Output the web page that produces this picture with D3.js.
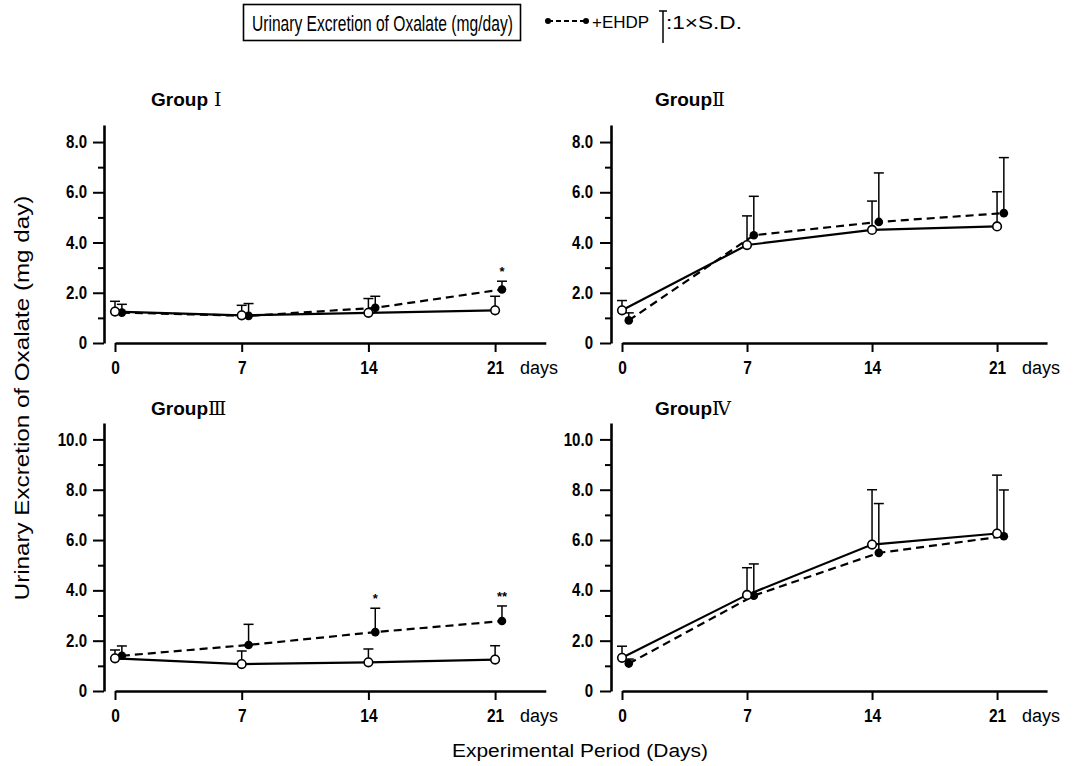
<!DOCTYPE html>
<html>
<head>
<meta charset="utf-8">
<script src="https://cdn.jsdelivr.net/npm/d3@7"></script>
<style>
  html, body { margin: 0; padding: 0; background: #fff; }
  svg { display: block; }
  text { font-family: "Liberation Sans", Arial, sans-serif; fill: #000; }
</style>
</head>
<body>
<script>
// ---------------- DATA ----------------
const days = [0, 7, 14, 21];
const xTickLabels = ["0", "7", "14", "21"];
const groupNames = ["Group", "Group", "Group", "Group"];
const groupNumerals = [" Ⅰ", "Ⅱ", "Ⅲ", "Ⅳ"];

const yTicksTop = [0, 2, 4, 6, 8];
const yTickLabelsTop = ["0", "2.0", "4.0", "6.0", "8.0"];
const yMinorTop = [1, 3, 5, 7];
const yTicksBottom = [0, 2, 4, 6, 8, 10];
const yTickLabelsBottom = ["0", "2.0", "4.0", "6.0", "8.0", "10.0"];
const yMinorBottom = [1, 3, 5, 7, 9];

// Group I
const g1Control   = [1.25, 1.10, 1.20, 1.30];
const g1ControlSD = [0.41, 0.40, 0.57, 0.56];
const g1EHDP      = [1.21, 1.08, 1.40, 2.13];
const g1EHDPSD    = [0.33, 0.49, 0.46, 0.33];
// Group II
const g2Control   = [1.30, 3.90, 4.50, 4.64];
const g2ControlSD = [0.39, 1.16, 1.15, 1.38];
const g2EHDP      = [0.90, 4.29, 4.82, 5.17];
const g2EHDPSD    = [0.30, 1.55, 1.95, 2.21];
// Group III
const g3Control   = [1.30, 1.07, 1.14, 1.25];
const g3ControlSD = [0.33, 0.52, 0.53, 0.55];
const g3EHDP      = [1.40, 1.83, 2.34, 2.78];
const g3EHDPSD    = [0.39, 0.82, 0.95, 0.60];
// Group IV
const g4Control   = [1.32, 3.82, 5.82, 6.26];
const g4ControlSD = [0.46, 1.08, 2.18, 2.32];
const g4EHDP      = [1.09, 3.79, 5.49, 6.15];
const g4EHDPSD    = [0.18, 1.26, 1.96, 1.84];

// significance marks on the +EHDP series: [group index, day, mark]
const sigGroup = [0, 2, 2];
const sigDay   = [21, 14, 21];
const sigMark  = ["*", "*", "**"];

const titleText = "Urinary Excretion of Oxalate (mg/day)";
const legendSeries = "+EHDP";
const legendSD = ":1×S.D.";
const yTitle = "Urinary Excretion of Oxalate (mg day)";
const xTitle = "Experimental Period (Days)";
const daysLabel = "days";

// ---------------- LAYOUT ----------------
const W = 1074, H = 766;
const svg = d3.select("body").append("svg").attr("width", W).attr("height", H);

// place a text at (x,y) and scale it horizontally so that it is `w` pixels wide
function fittedText(parent, tx, ty, str, size, w, anchor, rotate) {
  const g = parent.append("g").attr("transform", `translate(${tx},${ty})` + (rotate ? ` rotate(${rotate})` : ""));
  const t = g.append("text").attr("x", 0).attr("y", 0).attr("font-size", size)
    .attr("text-anchor", anchor || "start").text(str);
  const L = t.node().getComputedTextLength();
  if (L > 0) t.attr("transform", `scale(${w / L},1)`);
  return t;
}

const controls = [g1Control, g2Control, g3Control, g4Control];
const controlSDs = [g1ControlSD, g2ControlSD, g3ControlSD, g4ControlSD];
const ehdps = [g1EHDP, g2EHDP, g3EHDP, g4EHDP];
const ehdpSDs = [g1EHDPSD, g2EHDPSD, g3EHDPSD, g4EHDPSD];

const cols = [
  { yAxisX: 104, xStart: 115, pxPerDay: 18.1, labelPad: 6, titleX: 151 },
  { yAxisX: 611, xStart: 622, pxPerDay: 17.86, labelPad: 7, titleX: 655 }
];
const rows = [
  { y0: 343, pxPerUnit: 25.12, max: 8.68, ticks: yTicksTop, labels: yTickLabelsTop, minor: yMinorTop, titleY: 106 },
  { y0: 691, pxPerUnit: 25.16, max: 10.65, ticks: yTicksBottom, labels: yTickLabelsBottom, minor: yMinorBottom, titleY: 415 }
];
const dayMax = 23.8;
const ehdpShift = 0.38; // horizontal nudge of +EHDP symbols (in days)
const condense = 0.86;

for (let i = 0; i < 4; i++) {
  const C = cols[i % 2], R = rows[Math.floor(i / 2)];
  const x = d3.scaleLinear().domain([0, dayMax]).range([C.xStart, C.xStart + dayMax * C.pxPerDay]);
  const y = d3.scaleLinear().domain([0, R.max]).range([R.y0, R.y0 - R.max * R.pxPerUnit]);
  const g = svg.append("g");

  // Y axis (major)
  const ya = g.append("g").attr("transform", `translate(${C.yAxisX},0)`)
    .call(d3.axisLeft(y).tickValues(R.ticks).tickSize(11).tickSizeOuter(0)
      .tickPadding(C.labelPad).tickFormat((d, k) => R.labels[k]));
  ya.select(".domain").attr("stroke-width", 2.6);
  ya.selectAll(".tick line").attr("stroke-width", 2);
  ya.selectAll(".tick text").attr("font-size", 17.5).attr("font-weight", "bold")
    .attr("font-family", '"Liberation Sans", Arial, sans-serif')
    .attr("x", -(11 + C.labelPad) / condense)
    .attr("transform", `scale(${condense},1)`);
  // Y axis (minor)
  const ym = g.append("g").attr("transform", `translate(${C.yAxisX},0)`)
    .call(d3.axisLeft(y).tickValues(R.minor).tickSize(6).tickFormat(""));
  ym.select(".domain").remove();
  ym.selectAll(".tick line").attr("stroke-width", 2);

  // X axis
  const xa = g.append("g").attr("transform", `translate(0,${R.y0})`)
    .call(d3.axisBottom(x).tickValues(days).tickSize(9).tickSizeOuter(0)
      .tickPadding(9).tickFormat((d, k) => xTickLabels[k]));
  xa.select(".domain").attr("stroke-width", 2.6);
  xa.selectAll(".tick line").attr("stroke-width", 2);
  xa.selectAll(".tick text").attr("font-size", 18).attr("font-weight", "bold")
    .attr("font-family", '"Liberation Sans", Arial, sans-serif')
    .attr("transform", `scale(${condense},1)`);
  g.append("text").attr("x", x(21) + 25).attr("y", R.y0 + 31)
    .attr("font-size", 18).text(daysLabel);

  // Title
  const t = g.append("text").attr("x", C.titleX).attr("y", R.titleY)
    .attr("font-size", 19).attr("font-weight", "bold");
  t.append("tspan").text(groupNames[i]);
  t.append("tspan").attr("font-family", '"DejaVu Serif", "Liberation Serif", serif')
    .attr("font-weight", "normal").text(groupNumerals[i]);

  const ctrl = days.map((d, k) => ({ day: d, v: controls[i][k], sd: controlSDs[i][k] }));
  const ehdp = days.map((d, k) => ({ day: d + ehdpShift, v: ehdps[i][k], sd: ehdpSDs[i][k] }));

  // Error bars
  [ctrl, ehdp].forEach(series => {
    const eb = g.append("g").attr("stroke", "#000").attr("stroke-width", 1.5);
    series.forEach(p => {
      const px = x(p.day), top = y(p.v + p.sd);
      eb.append("line").attr("x1", px).attr("x2", px).attr("y1", y(p.v)).attr("y2", top);
      eb.append("line").attr("x1", px - 5).attr("x2", px + 5).attr("y1", top).attr("y2", top);
    });
  });

  const line = d3.line().x(p => x(p.day)).y(p => y(p.v));
  g.append("path").datum(ctrl).attr("d", line).attr("fill", "none")
    .attr("stroke", "#000").attr("stroke-width", 2.2);
  g.append("path").datum(ehdp).attr("d", line).attr("fill", "none")
    .attr("stroke", "#000").attr("stroke-width", 2.2).attr("stroke-dasharray", "8,5");

  g.selectAll(".ehdp").data(ehdp).enter().append("circle")
    .attr("cx", p => x(p.day)).attr("cy", p => y(p.v)).attr("r", 4.3).attr("fill", "#000");
  g.selectAll(".ctrl").data(ctrl).enter().append("circle")
    .attr("cx", p => x(p.day)).attr("cy", p => y(p.v)).attr("r", 4.3)
    .attr("fill", "#fff").attr("stroke", "#000").attr("stroke-width", 1.6);

  // significance marks
  sigGroup.forEach((gi, k) => {
    if (gi !== i) return;
    const idx = days.indexOf(sigDay[k]);
    const p = ehdp[idx];
    g.append("text").attr("x", x(p.day)).attr("y", y(p.v + p.sd) - 5)
      .attr("text-anchor", "middle").attr("font-size", 13).attr("font-weight", "bold")
      .text(sigMark[k]);
  });
}

// Axis titles
fittedText(svg, 29, 398, yTitle, 20, 405, "middle", -90);
fittedText(svg, 580, 757, xTitle, 19, 256, "middle");

// Top legend / title box
svg.append("rect").attr("x", 243.5).attr("y", 4.5).attr("width", 277).attr("height", 36)
  .attr("fill", "none").attr("stroke", "#000").attr("stroke-width", 1.6);
fittedText(svg, 252, 31, titleText, 22, 261, "start");

const lg = svg.append("g");
lg.append("line").attr("x1", 548).attr("x2", 586).attr("y1", 21).attr("y2", 21)
  .attr("stroke", "#000").attr("stroke-width", 1.8).attr("stroke-dasharray", "5,3");
lg.selectAll("circle").data([548, 586]).enter().append("circle")
  .attr("cx", d => d).attr("cy", 21).attr("r", 3).attr("fill", "#000");
lg.append("text").attr("x", 592).attr("y", 28).attr("font-size", 17).text(legendSeries);
lg.append("line").attr("x1", 663).attr("x2", 663).attr("y1", 11).attr("y2", 43)
  .attr("stroke", "#000").attr("stroke-width", 1.5);
lg.append("line").attr("x1", 659).attr("x2", 667).attr("y1", 11).attr("y2", 11)
  .attr("stroke", "#000").attr("stroke-width", 1.5);
fittedText(lg, 666, 29, legendSD, 19, 76, "start");
</script>
</body>
</html>
